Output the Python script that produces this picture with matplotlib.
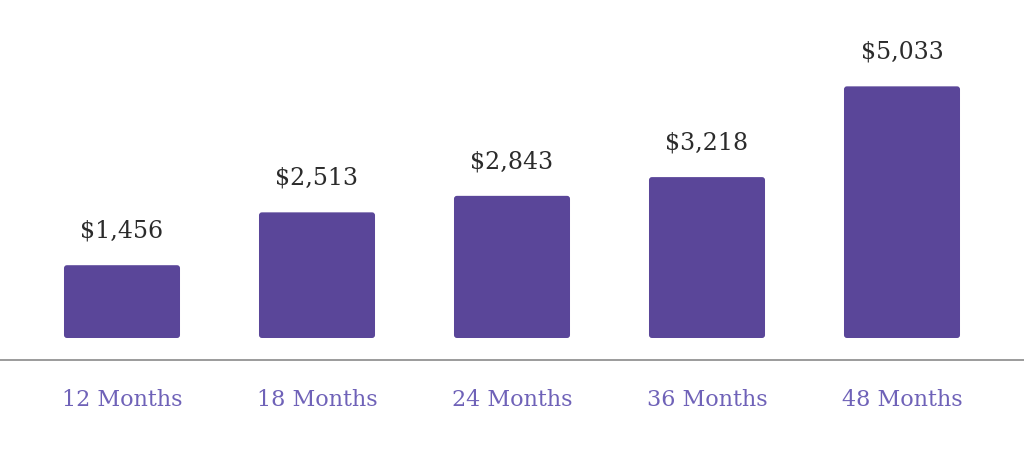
import matplotlib
matplotlib.use("Agg")
import matplotlib.pyplot as plt
from matplotlib.patches import FancyBboxPatch

categories = ["12 Months", "18 Months", "24 Months", "36 Months", "48 Months"]
values = [1456, 2513, 2843, 3218, 5033]
value_labels = ["$1,456", "$2,513", "$2,843", "$3,218", "$5,033"]

BAR_COLOR = "#5a4699"
TICK_COLOR = "#6f62b8"
TEXT_COLOR = "#2b2b2b"
W, H = 1024, 477
k = 0.05  # px per unit
gap_px = 22

fig = plt.figure(figsize=(W / 100, H / 100), dpi=100)
ax = fig.add_axes([0, (H - 361) / H, 1, 361 / H])

x = list(range(len(categories)))
bars = ax.bar(x, values, width=0.595, color=BAR_COLOR)
ax.set_xlim(-122 / 195, (W - 122) / 195)
ax.set_ylim(-gap_px / k, (361 - gap_px) / k)

# swap plain rectangles for slightly rounded ones
aspect = (1 / k) * 195  # y data units per x data unit, at equal pixels
for b in bars:
    b.set_visible(False)
    rb = FancyBboxPatch((b.get_x(), b.get_y()), b.get_width(), b.get_height(),
                        boxstyle="round,pad=0,rounding_size=0.015",
                        mutation_aspect=aspect, fc=BAR_COLOR, ec="none")
    ax.add_patch(rb)

for xi, v, lab in zip(x, values, value_labels):
    ax.annotate(lab, (xi, v), xytext=(0, 17), textcoords="offset points",
                ha="center", va="bottom", fontsize=17, color=TEXT_COLOR,
                family="DejaVu Serif")

for s in ["top", "left", "right"]:
    ax.spines[s].set_visible(False)
ax.spines["bottom"].set_color("#8a8a8a")
ax.spines["bottom"].set_linewidth(1.2)
ax.set_yticks([])
ax.set_xticks(x)
ax.set_xticklabels(categories, fontsize=16, color=TICK_COLOR, family="DejaVu Serif")
ax.tick_params(axis="x", length=0, pad=20)

fig.savefig("out.png", dpi=100)
